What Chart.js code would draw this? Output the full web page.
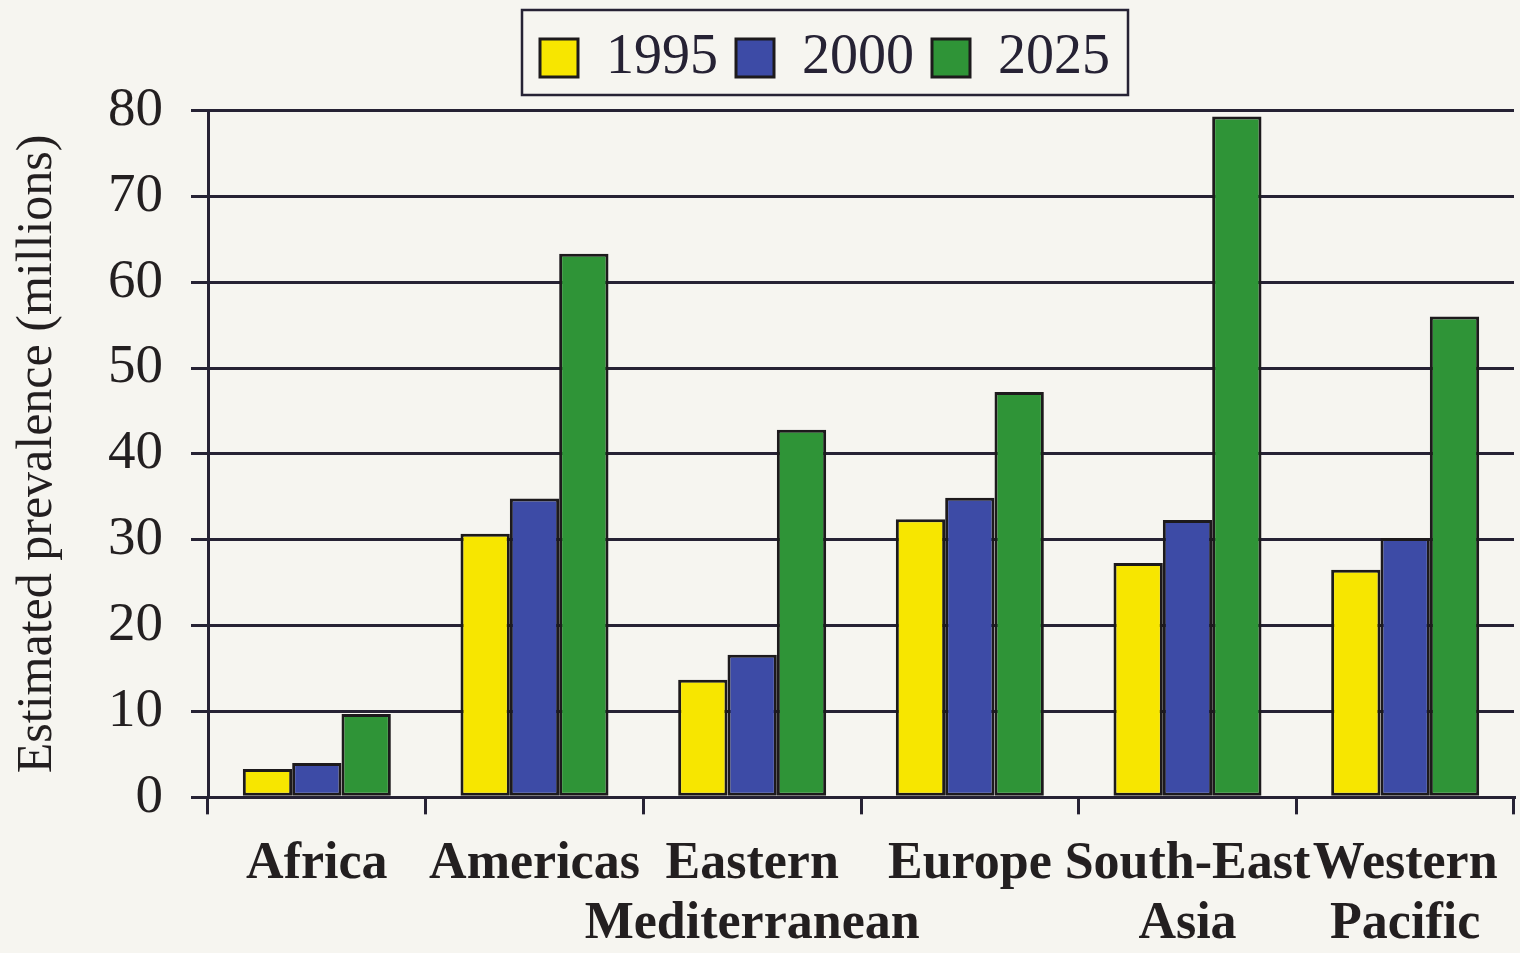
<!DOCTYPE html>
<html>
<head>
<meta charset="utf-8">
<title>Estimated prevalence by region</title>
<script src="https://cdn.jsdelivr.net/npm/chart.js@4.4.0/dist/chart.umd.min.js"></script>
<style>
  html, body { margin: 0; padding: 0; background: #f6f5f0; }
  #wrap { width: 1520px; height: 953px; }
</style>
</head>
<body>
<div id="wrap"><canvas id="prevalenceChart"></canvas></div>
<script>
/* ---- data ---- */
const regions = [
    'Africa',
    'Americas',
    ['Eastern', 'Mediterranean'],
    'Europe',
    ['South-East', 'Asia'],
    ['Western', 'Pacific']
];
const years = ['1995', '2000', '2025'];
const prev1995 = [3.3, 30.7, 13.7, 32.4, 27.3, 26.5];
const prev2000 = [4.0, 34.8, 16.6, 34.9, 32.3, 30.2];
const prev2025 = [9.7, 63.3, 42.8, 47.2, 79.3, 56.0];
const yTicks = [0, 10, 20, 30, 40, 50, 60, 70, 80];

const INK = '#262234';
const SERIF = '"Liberation Serif", "Times New Roman", serif';

/* legend frame (the reference has a box round the legend) */
const legendFrame = {
    id: 'legendFrame',
    afterLayout(chart) {
        // nudge legend a bit left, like the printed figure
        chart.legend.left -= 36;
        chart.legend.right -= 36;
    },
    afterDraw(chart) {
        const boxes = chart.legend.legendHitBoxes;
        if (!boxes || !boxes.length) return;
        const first = boxes[0];
        const last = boxes[boxes.length - 1];
        const ctx = chart.ctx;
        ctx.save();
        ctx.strokeStyle = INK;
        ctx.lineWidth = 2.5;
        ctx.strokeRect(first.left - 18, first.top - 20,
            last.left + last.width + 18 - (first.left - 18),
            first.height + 29);
        ctx.restore();
    }
};

const ctx = document.getElementById('prevalenceChart');

new Chart(ctx.getContext('2d'), {
    type: 'bar',
    data: {
        labels: regions,
        datasets: [
            { label: years[0], data: prev1995, backgroundColor: '#f7e600' },
            { label: years[1], data: prev2000, backgroundColor: '#3d4ba6' },
            { label: years[2], data: prev2025, backgroundColor: '#2f9437' }
        ].map(ds => Object.assign(ds, {
            borderColor: '#1d1a1c',
            borderWidth: 3,
            borderSkipped: false,
            barPercentage: 1.0,
            categoryPercentage: 0.68
        }))
    },
    options: {
        responsive: true,
        maintainAspectRatio: false,
        animation: false,
        layout: { padding: { top: 12, left: 0, right: 6, bottom: -22 } },
        plugins: {
            legend: {
                position: 'top',
                fullSize: false,
                labels: {
                    boxWidth: 38,
                    boxHeight: 38,
                    padding: 18,
                    color: INK,
                    font: { family: SERIF, size: 56 }
                }
            },
            // spacer between legend and plot
            title: { display: true, text: '', weight: 10, padding: 0, font: { size: 12 } },
            tooltip: { enabled: false }
        },
        scales: {
            x: {
                grid: {
                    drawOnChartArea: false,
                    drawTicks: true,
                    tickLength: 17,
                    lineWidth: 3,
                    color: INK
                },
                border: { display: true, color: INK, width: 3 },
                ticks: {
                    autoSkip: false,
                    maxRotation: 0,
                    minRotation: 0,
                    padding: 20,
                    color: '#231f20',
                    font: { family: SERIF, size: 52, weight: 'bold', lineHeight: 1.16 }
                }
            },
            y: {
                min: yTicks[0],
                max: yTicks[yTicks.length - 1],
                afterBuildTicks: scale => {
                    scale.ticks = yTicks.map(v => ({ value: v }));
                },
                grid: {
                    color: INK,
                    lineWidth: 3,
                    drawTicks: true,
                    tickLength: 17
                },
                border: { display: true, color: INK, width: 3 },
                ticks: {
                    padding: 28,
                    color: '#231f20',
                    font: { family: SERIF, size: 55 }
                },
                title: {
                    display: true,
                    text: 'Estimated prevalence (millions)',
                    color: '#231f20',
                    padding: { top: 8, bottom: 12 },
                    font: { family: SERIF, size: 50 }
                }
            }
        }
    },
    plugins: [legendFrame]
});
</script>
</body>
</html>
